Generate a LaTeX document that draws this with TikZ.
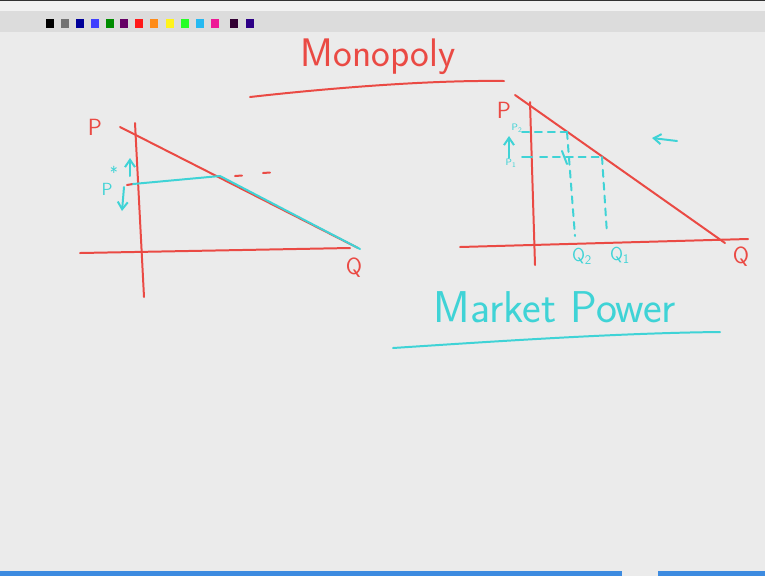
\documentclass[tikz,border=0pt]{standalone}
\usepackage{xcolor}
\usepackage{tikz}
\usetikzlibrary{arrows.meta, positioning, calc}
\definecolor{wbBoard}{HTML}{EBEBEB}
\definecolor{wbBar}{HTML}{DCDCDC}
\definecolor{wbMenu}{HTML}{F2F2F2}
\definecolor{wbTask}{HTML}{3D8BE0}
\definecolor{inkRed}{HTML}{EA4A44}
\definecolor{inkCyan}{HTML}{3FD3D6}
\tikzset{
  redink/.style={draw=inkRed, line width=1.7pt, line cap=round},
  cyanink/.style={draw=inkCyan, line width=1.7pt, line cap=round},
  cyandash/.style={cyanink, dash pattern=on 6pt off 5pt},
  handlbl/.style={font=\sffamily, inner sep=0pt},
  redlbl/.style={handlbl, text=inkRed},
  cyanlbl/.style={handlbl, text=inkCyan},
  inktip/.style={-{Straight Barb[length=2.2mm, width=3mm]}},
  swatch/.style={minimum width=7pt, minimum height=8pt, inner sep=0pt}
}
\begin{document}
\begin{tikzpicture}[x=0.03cm, y=-0.03cm]
  \useasboundingbox (0,0) rectangle (765,576);
  % board and window chrome
  \fill[wbBoard] (0,0) rectangle (765,576);
  \fill[wbBar] (0,0) rectangle (765,32);
  \fill[wbMenu] (0,1) rectangle (765,11);
  \draw[black!80, line width=0.8pt] (0,0.4) -- (765,0.4);
  \fill[wbTask] (0,571) rectangle (622,576);
  \fill[wbTask] (658,571) rectangle (765,576);
  % pen palette
  \foreach \px/\pc in {46/black, 61/black!55, 76/blue!60!black, 91/blue!75,
      106/green!55!black, 120/violet!80!black, 135/red!90, 150/orange!90,
      166/yellow!90, 181/green!85, 196/cyan!85, 211/magenta!90,
      230/violet!40!black, 246/blue!50!violet!70!black}
    \node[swatch, fill=\pc] (sw\px) at (\px+4,23.5) {};

  % title
  \node[redlbl, font=\sffamily\fontsize{34}{34}\selectfont] (title) at (378,57) {Monopoly};
  \coordinate (tulA) at (250,97);
  \coordinate (tulB) at (504,81);
  \draw[redink] (tulA) .. controls (330,88) and (430,80) .. (tulB);

  % left diagram
  \coordinate (lyTop) at (135,123);
  \coordinate (lyBot) at (144,297);
  \coordinate (lxL) at (80,253);
  \coordinate (lxR) at (350,248);
  \coordinate (ldA) at (120,127);
  \coordinate (ldB) at (358,248);
  \coordinate (lkink) at (220,176);
  \coordinate (lpst) at (133,184);
  \draw[redink] (lyTop) -- (lyBot);
  \draw[redink] (lxL) -- (lxR);
  \draw[redink] (ldA) -- (ldB);
  \draw[redink] (127,185) -- (lpst);
  \draw[cyanink] (lpst) -- (lkink) -- (360,249);
  \draw[redink] (235,176) -- (242,175.5);
  \draw[redink] (263,173) -- (270,172.5);
  \node[redlbl, font=\sffamily\fontsize{20}{20}\selectfont] (lP) at (95,127) {P};
  \node[redlbl, font=\sffamily\fontsize{20}{20}\selectfont] (lQ) at (354,268) {Q};
  \node[cyanlbl, font=\sffamily\fontsize{14}{14}\selectfont] (lstar) at (114,172) {*};
  \node[cyanlbl, font=\sffamily\fontsize{15}{15}\selectfont] (lpbl) at (107,189) {P};
  \coordinate (lupA) at (130,176);
  \coordinate (lupB) at (130,158);
  \coordinate (ldnA) at (124,187);
  \coordinate (ldnB) at (122,211);
  \draw[cyanink, inktip] (lupA) -- (lupB);
  \draw[cyanink, inktip] (ldnA) -- (ldnB);

  % right diagram
  \coordinate (ryTop) at (530,102);
  \coordinate (ryBot) at (535,265);
  \coordinate (rxL) at (460,247);
  \coordinate (rxR) at (748,239);
  \coordinate (rdA) at (515,95);
  \coordinate (rdB) at (725,243);
  \coordinate (rp2) at (567,132);
  \coordinate (rp1) at (602,157);
  \draw[redink] (ryTop) -- (ryBot);
  \draw[redink] (rxL) -- (rxR);
  \draw[redink] (rdA) -- (rdB);
  \draw[cyandash] (522,132) -- (rp2);
  \draw[cyanink] (522,157) -- (532,157);
  \draw[cyandash] (540,157) -- (rp1);
  \draw[cyanink] (562,151) -- (567,164);
  \draw[cyandash] (rp2) -- (575,236);
  \draw[cyandash] (rp1) -- (607,234);
  \node[redlbl, font=\sffamily\fontsize{20}{20}\selectfont] (rP) at (504,110) {P};
  \node[redlbl, font=\sffamily\fontsize{20}{20}\selectfont] (rQ) at (741,257) {Q};
  \node[cyanlbl, font=\sffamily\fontsize{8}{8}\selectfont] (rp2l) at (517,128) {P\textsubscript{2}};
  \node[cyanlbl, font=\sffamily\fontsize{8}{8}\selectfont] (rp1l) at (511,163) {P\textsubscript{1}};
  \coordinate (rupA) at (509,158);
  \coordinate (rupB) at (509,136);
  \draw[cyanink, inktip] (rupA) -- (rupB);
  \node[cyanlbl, font=\sffamily\fontsize{16}{16}\selectfont] (rq2) at (582,256) {Q\textsubscript{2}};
  \node[cyanlbl, font=\sffamily\fontsize{16}{16}\selectfont] (rq1) at (620,255) {Q\textsubscript{1}};
  \coordinate (rarA) at (677,141);
  \coordinate (rarB) at (652,138);
  \draw[cyanink, inktip] (rarA) -- (rarB);

  % market power
  \node[cyanlbl, font=\sffamily\fontsize{38}{38}\selectfont] (mpow) at (555,307) {Market Power};
  \coordinate (mulA) at (393,348);
  \coordinate (mulB) at (720,332);
  \draw[cyanink] (mulA) .. controls (500,341) and (620,333) .. (mulB);
\end{tikzpicture}
\end{document}
